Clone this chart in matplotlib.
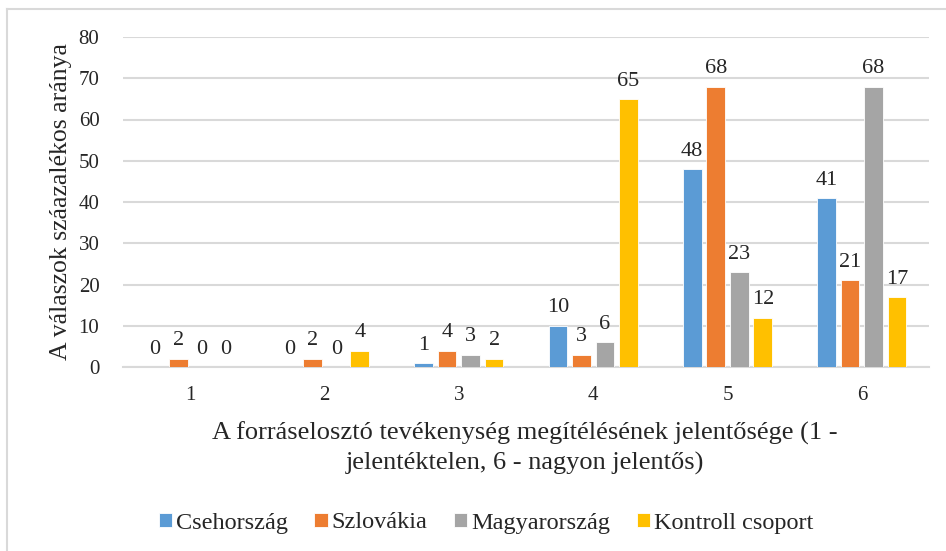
import numpy as np
import matplotlib.pyplot as plt
from matplotlib.lines import Line2D

SERIF = ['Liberation Serif', 'DejaVu Serif']
plt.rcParams['font.family'] = SERIF

categories = ["1", "2", "3", "4", "5", "6"]
series_names = ["Csehország", "Szlovákia", "Magyarország", "Kontroll csoport"]
cseh = [0, 0, 1, 10, 48, 41]
szlovakia = [2, 2, 4, 3, 68, 21]
magyar = [0, 0, 3, 6, 23, 68]
kontroll = [0, 4, 2, 65, 12, 17]
y_ticks = [0, 10, 20, 30, 40, 50, 60, 70, 80]

colors = ["#5B9BD5", "#ED7D31", "#A5A5A5", "#FFC000"]
grid_col = "#D9D9D9"
text_col = "#262626"

fig = plt.figure(figsize=(9.46, 5.51), dpi=100)
ax = fig.add_axes([123 / 946, 1 - 367 / 551, (929 - 123) / 946, (367 - 37) / 551])

x = np.arange(1, len(categories) + 1)
step = 0.175
width = 0.14
all_series = [cseh, szlovakia, magyar, kontroll]
for i, (vals, name, col) in enumerate(zip(all_series, series_names, colors)):
    pos = x + (i - 1.5) * step
    bars = ax.bar(pos, vals, width, color=col, edgecolor="white", linewidth=0.6,
                  label=name, zorder=3)
    ax.bar_label(bars, labels=[str(v) for v in vals], padding=6, fontsize=16,
                 color=text_col)

ax.set_xlim(0.5, 6.5)
ax.set_ylim(0, 80)
ax.set_yticks(y_ticks)
ax.set_xticks(x)
ax.set_xticklabels(categories)
ax.tick_params(axis="both", length=0, labelsize=15, colors=text_col)
ax.tick_params(axis="y", pad=17)
ax.tick_params(axis="x", pad=14)
ax.grid(axis="y", color=grid_col, linewidth=1.5, zorder=0)
for s in ["top", "right", "left"]:
    ax.spines[s].set_visible(False)
ax.spines["bottom"].set_color(grid_col)
ax.spines["bottom"].set_linewidth(1.5)

ax.set_ylabel("A válaszok száazalékos aránya", fontsize=18.5, color=text_col, labelpad=5)

fig.text(525 / 946, 1 - 448 / 551,
         "A forráselosztó tevékenység megítélésének jelentősége (1 -\njelentéktelen, 6 - nagyon jelentős)",
         ha="center", va="center", fontsize=19, color=text_col, linespacing=1.4)

fig.legend(loc="center", bbox_to_anchor=(486 / 946, 1 - 523 / 551), ncol=4, frameon=False,
           prop={"family": SERIF, "size": 17.5}, handlelength=0.55, handleheight=0.55,
           handletextpad=0.15, columnspacing=1.1, labelcolor=text_col)

# chart border (only top and left visible in the crop)
fig.add_artist(Line2D([6.5 / 946, 1], [1 - 9 / 551, 1 - 9 / 551], color=grid_col, linewidth=1.5))
fig.add_artist(Line2D([6.5 / 946, 6.5 / 946], [0, 1 - 9 / 551], color=grid_col, linewidth=1.5))

fig.savefig("out.png", dpi=100)
